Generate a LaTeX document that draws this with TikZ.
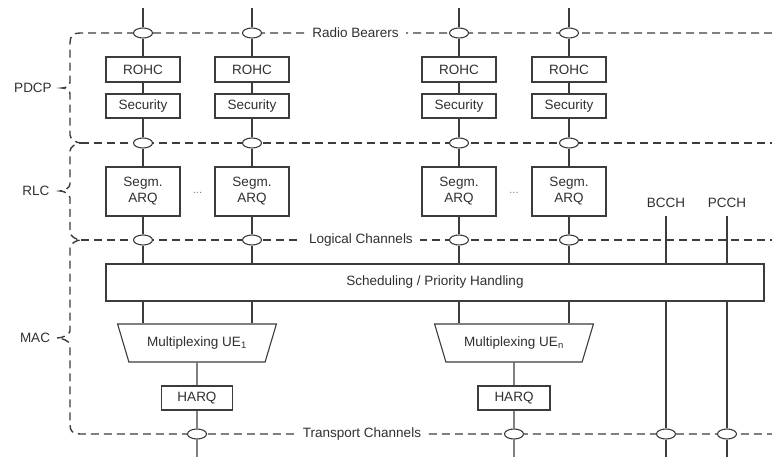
\documentclass[tikz,border=0pt]{standalone}
\usepackage{fontspec}
\setmainfont{Liberation Sans}
\usetikzlibrary{shapes.geometric}
\definecolor{ln}{HTML}{3c3c3c}
\definecolor{tx}{HTML}{303030}
\begin{document}
\begin{tikzpicture}[x=1pt,y=-1pt,
  font=\fontsize{13.5}{16}\selectfont,
  box/.style={draw=ln, line width=1.1pt, fill=white, text=tx, inner sep=0pt, align=center},
  rohcbox/.style={box, minimum width=74pt, minimum height=25pt},
  secbox/.style={box, minimum width=74pt, minimum height=24pt},
  segbox/.style={box, minimum width=74pt, minimum height=49pt},
  harqbox/.style={box, minimum width=71pt, minimum height=24pt},
  port/.style={ellipse, draw=ln, fill=white, line width=1.1pt, minimum width=19pt, minimum height=10pt, inner sep=0pt},
  wire/.style={draw=ln, line width=1.1pt},
  bus/.style={draw=ln, line width=1.4pt, dash pattern=on 8pt off 5pt},
  buslabel/.style={fill=white, inner xsep=7pt, inner ysep=2pt, text=tx},
  layer/.style={text=tx, inner sep=0pt},
  mux/.style={trapezium, trapezium stretches=true, shape border rotate=180,
    trapezium left angle=56.7, trapezium right angle=56.7,
    minimum width=159pt, minimum height=38pt, draw=ln, line width=1.1pt,
    fill=white, text=tx, inner sep=0pt},
  dots/.style={text=gray, font=\fontsize{11}{11}\selectfont, inner sep=0pt}]
\useasboundingbox (0,0) rectangle (772,457);

% ---- dashed buses and layer brackets ----
\draw[bus] (772,33) -- (80,33) .. controls (73,33) and (70,36) .. (70,43)
  -- (70,82) .. controls (70,86) and (66,88) .. (62,88) .. controls (66,88) and (70,90) .. (70,94)
  -- (70,135) .. controls (70,139) and (76,143) .. (81,143) .. controls (76,143) and (70,147) .. (70,151)
  -- (70,184) .. controls (70,188) and (64,191) .. (60,191) .. controls (64,191) and (70,194) .. (70,198)
  -- (70,232) .. controls (70,236) and (76,240) .. (81,240) .. controls (76,240) and (70,244) .. (70,248)
  -- (70,331) .. controls (70,335) and (62,338) .. (57,338) .. controls (62,338) and (70,341) .. (70,345)
  -- (70,425) .. controls (70,431) and (73,434) .. (80,434) -- (772,434);
\draw[bus] (81,143) -- (772,143);
\draw[bus] (81,240) -- (772,240);

\node[buslabel] (rblabel) at (355.5,33) {Radio Bearers};
\node[buslabel] (lclabel) at (361,240) {Logical Channels};
\node[buslabel] (tclabel) at (362,434) {Transport Channels};

\node[layer] (pdcp) at (33,88) {PDCP};
\node[layer] (rlc) at (36,191) {RLC};
\node[layer] (mac) at (35,338) {MAC};

% ---- radio bearer columns ----
\foreach \i/\x in {1/143,2/252,3/459,4/569} {
  \coordinate (top\i) at (\x,8);
  \node[port] (rb\i) at (\x,33) {};
  \node[rohcbox] (rohc\i) at (\x,69.5) {ROHC};
  \node[secbox] (sec\i) at (\x,106) {Security};
  \node[port] (pl\i) at (\x,143) {};
  \node[segbox] (seg\i) at (\x,191.5) {Segm.\\ARQ};
  \node[port] (lc\i) at (\x,240) {};
}
\node[dots] (dots1) at (197.5,193) {...};
\node[dots] (dots2) at (514,193) {...};

\node[box, minimum width=658pt, minimum height=37pt] (sched) at (435,282.5) {Scheduling / Priority Handling};

\node[mux] (mux1) at (197,343) {Multiplexing UE\textsubscript{1}};
\node[mux] (mux2) at (514,343) {Multiplexing UE\textsubscript{n}};
\node[harqbox] (harq1) at (197,398) {HARQ};
\node[harqbox, minimum width=72pt] (harq2) at (514,398) {HARQ};

\node[text=tx, inner sep=0pt, anchor=base] (bcch) at (666,208) {BCCH};
\node[text=tx, inner sep=0pt, anchor=base] (pcch) at (727,208) {PCCH};
\coordinate (bcchtop) at (666,216);
\coordinate (pcchtop) at (727,216);

\node[port] (tc1) at (197,434) {};
\node[port] (tc2) at (514,434) {};
\node[port] (tc3) at (666,434) {};
\node[port] (tc4) at (727,434) {};
\coordinate (bot1) at (197,457);
\coordinate (bot2) at (514,457);
\coordinate (bot3) at (666,457);
\coordinate (bot4) at (727,457);

% ---- wires ----
\foreach \i in {1,...,4} {
  \draw[wire] (top\i) -- (rb\i) -- (rohc\i) -- (sec\i) -- (pl\i) -- (seg\i) -- (lc\i) -- (lc\i |- sched.north);
}
\draw[wire] (sched.south -| seg1) -- (seg1 |- mux1.north);
\draw[wire] (sched.south -| seg2) -- (seg2 |- mux1.north);
\draw[wire] (sched.south -| seg3) -- (seg3 |- mux2.north);
\draw[wire] (sched.south -| seg4) -- (seg4 |- mux2.north);
\draw[wire] (mux1) -- (harq1) -- (tc1) -- (bot1);
\draw[wire] (mux2) -- (harq2) -- (tc2) -- (bot2);
\draw[wire] (bcchtop) -- (bcchtop |- sched.north);
\draw[wire] (pcchtop) -- (pcchtop |- sched.north);
\draw[wire] (sched.south -| bcchtop) -- (tc3) -- (bot3);
\draw[wire] (sched.south -| pcchtop) -- (tc4) -- (bot4);
\end{tikzpicture}
\end{document}
